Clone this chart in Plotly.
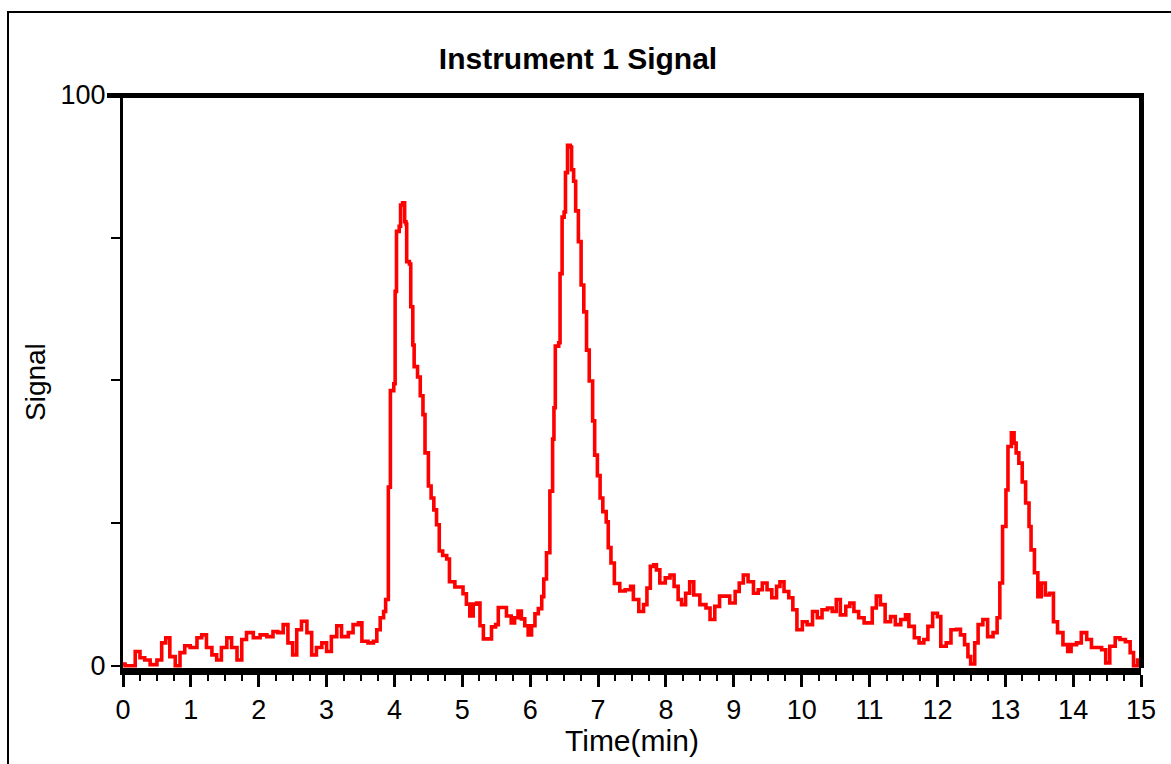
import plotly.graph_objects as go

# Retention time (min) and detector signal for Instrument 1
time_min = [
    0.00, 0.03, 0.18, 0.25, 0.32, 0.40, 0.50, 0.57, 0.63, 0.69, 0.77, 0.84, 0.91, 0.99,
    1.09, 1.16, 1.23, 1.31, 1.38, 1.45, 1.53, 1.60, 1.68, 1.75, 1.82, 1.92, 2.02, 2.12,
    2.21, 2.28, 2.36, 2.43, 2.50, 2.56, 2.63, 2.71, 2.78, 2.85, 2.93, 3.00, 3.07, 3.15,
    3.22, 3.32, 3.39, 3.47, 3.52, 3.61, 3.69, 3.74, 3.79, 3.84, 3.87,
    3.91, 3.94, 3.99, 4.01, 4.03, 4.07, 4.09, 4.12, 4.15, 4.17, 4.18, 4.22, 4.24, 4.27,
    4.29, 4.34, 4.38, 4.42, 4.45, 4.50, 4.54, 4.58, 4.62, 4.66, 4.71, 4.77, 4.81, 4.89,
    4.96, 5.01, 5.06, 5.11, 5.16, 5.21, 5.26, 5.31, 5.38, 5.43, 5.49, 5.53, 5.60, 5.65,
    5.72, 5.77, 5.82, 5.87, 5.92, 5.97, 6.02, 6.07, 6.12, 6.17, 6.20, 6.24, 6.29, 6.33,
    6.35, 6.37, 6.42, 6.44, 6.47, 6.50, 6.52, 6.55, 6.59, 6.61, 6.64, 6.67, 6.71, 6.75,
    6.79, 6.83, 6.87, 6.92, 6.95, 6.99, 7.03, 7.07, 7.12, 7.15, 7.19, 7.24, 7.32, 7.40,
    7.48, 7.52, 7.60, 7.67, 7.72, 7.77, 7.82,
    7.86, 7.91, 7.99, 8.06, 8.12, 8.18, 8.23, 8.29, 8.35, 8.41, 8.50, 8.59, 8.65, 8.72,
    8.79, 8.87, 8.94, 9.02, 9.08, 9.14, 9.21, 9.29, 9.36, 9.42, 9.49, 9.56, 9.63, 9.68,
    9.74, 9.81, 9.87, 9.93, 10.01, 10.08, 10.16, 10.23, 10.30, 10.38, 10.45, 10.51, 10.57,
    10.65, 10.71, 10.77, 10.84, 10.92, 10.99, 11.04, 11.10, 11.16, 11.23, 11.31, 11.38,
    11.46, 11.53, 11.58, 11.66, 11.73, 11.80, 11.86, 11.93, 12.00, 12.05, 12.13, 12.20,
    12.28, 12.34, 12.40, 12.45, 12.49, 12.55, 12.60, 12.67, 12.74, 12.82, 12.88, 12.92,
    12.96, 13.01, 13.04, 13.09, 13.13, 13.16, 13.20, 13.25, 13.30, 13.35, 13.38, 13.43,
    13.48, 13.53, 13.59, 13.65, 13.71, 13.77, 13.85, 13.92, 13.97, 14.05, 14.12, 14.20,
    14.27, 14.34, 14.42, 14.48, 14.54, 14.62, 14.69, 14.77, 14.84, 14.89, 14.95, 15.00,
]

signal = [
    0.3, 0.0, 2.5, 1.4, 1.0, 0.2, 1.0, 4.0, 4.9, 1.6, 0.0, 2.3, 3.5, 3.2,
    4.9, 5.4, 3.2, 1.9, 1.0, 3.2, 4.9, 3.2, 1.0, 4.6, 5.8, 4.9, 5.4, 5.1,
    6.0, 5.8, 7.2, 4.0, 1.9, 6.3, 7.8, 5.8, 1.9, 3.2, 4.0, 2.5, 5.1, 7.0,
    5.1, 5.8, 7.2, 7.5, 4.3, 4.0, 4.3, 6.3, 8.4, 9.5, 11.6,
    31.3, 48.2, 49.4, 65.6, 76.1, 77.0, 80.7, 81.1, 77.8, 77.4, 70.8, 70.4, 62.9, 56.2,
    52.4, 50.6, 47.3, 44.0, 37.3, 31.5, 29.4, 27.3, 24.7, 20.1, 19.3, 18.7, 14.7, 13.8,
    13.8, 12.6, 10.8, 8.7, 10.8, 11.0, 7.0, 4.7, 4.7, 6.8, 7.2, 10.2, 10.2, 8.7,
    7.5, 8.4, 9.6, 8.2, 7.0, 5.4, 7.0, 9.1, 10.0, 12.1, 15.2, 19.8, 30.6, 39.7,
    45.2, 56.0, 56.6, 68.7, 78.6, 79.5, 86.4, 91.2, 90.9, 86.9, 84.9, 79.7, 74.3, 66.7,
    62.0, 55.3, 49.9, 42.9, 36.9, 33.3, 29.4, 27.0, 25.2, 20.7, 18.0, 14.4, 13.1, 13.3,
    13.9, 11.6, 9.5, 10.7, 13.6, 17.4, 17.7,
    16.8, 14.5, 15.4, 15.9, 13.9, 11.6, 10.7, 12.7, 14.7, 12.4, 10.7, 10.1, 8.1, 10.4,
    12.2, 12.2, 11.0, 13.0, 14.5, 15.9, 14.7, 12.7, 13.3, 14.5, 13.3, 11.9, 13.9, 14.7,
    13.0, 11.9, 9.8, 6.3, 7.7, 7.2, 9.5, 8.4, 9.8, 10.1, 9.5, 11.6, 8.9,
    10.4, 11.0, 9.5, 8.4, 7.5, 7.5, 10.1, 12.2, 10.7, 7.7, 8.6, 7.2,
    8.1, 8.9, 6.9, 4.9, 4.0, 4.6, 6.9, 9.2, 8.6, 3.4, 4.0, 6.3,
    6.4, 5.4, 3.7, 1.6, 0.3, 4.0, 7.2, 8.1, 5.1, 5.8, 8.4, 14.5,
    24.4, 30.8, 38.4, 40.8, 39.0, 37.3, 35.5, 32.2, 28.5, 24.4, 20.3, 16.3,
    12.1, 14.5, 12.4, 12.7, 7.7, 5.8, 3.7, 2.5, 3.7, 4.0, 5.8, 4.6,
    3.2, 3.2, 2.8, 0.5, 3.4, 4.9, 4.6, 4.2, 2.3, 0.0, 1.0, 3.7,
]

x_ticks = list(range(0, 16))
y_ticks = [0, 25, 50, 75, 100]
y_tick_text = ["0", "", "", "", "100"]

W, H = 1171, 764
L, R, T, B = 123, 1141, 95, 668  # plot-area edges in pixels
pw, ph = R - L, B - T


def px_x(x):
    return (x - L) / pw


def px_y(y):
    return (B - y) / ph


FONT = "Arial, Liberation Sans, sans-serif"

fig = go.Figure()
fig.add_trace(go.Scatter(
    x=time_min, y=signal, mode="lines",
    line=dict(color="#ff0000", width=3.6, shape="hv"),
    hoverinfo="x+y", showlegend=False,
))

fig.update_layout(
    width=W, height=H,
    margin=dict(l=L, r=W - R, t=T, b=H - B, pad=0),
    paper_bgcolor="white", plot_bgcolor="white",
    font=dict(family=FONT, size=27, color="black"),
    title=dict(text="<b>Instrument 1 Signal</b>", x=578 / W, xref="container",
               xanchor="center", y=1 - 58 / H, yref="container", yanchor="middle",
               font=dict(family=FONT, size=30, color="black")),
    xaxis=dict(range=[0, 15], tickvals=x_ticks, showgrid=False, zeroline=False,
               showline=True, linecolor="black", linewidth=7,
               ticks="outside", ticklen=12, tickwidth=3, tickcolor="black",
               tickfont=dict(size=27),
               minor=dict(dtick=0.25, ticks="outside", ticklen=6, tickwidth=2,
                          tickcolor="black", showgrid=False)),
    yaxis=dict(range=[-0.4, 100], tickvals=y_ticks, ticktext=y_tick_text,
               showgrid=False, zeroline=False,
               showline=True, linecolor="black", linewidth=3,
               ticks="outside", ticklen=9, tickwidth=2, tickcolor="black",
               tickfont=dict(size=27)),
    annotations=[
        dict(text="Time(min)", x=0.5, y=px_y(741), xref="paper", yref="paper",
             xanchor="center", yanchor="middle", showarrow=False,
             font=dict(family=FONT, size=30, color="black")),
        dict(text="Signal", x=px_x(35), y=px_y(382), xref="paper", yref="paper",
             xanchor="center", yanchor="middle", showarrow=False, textangle=-90,
             font=dict(family=FONT, size=28, color="black")),
    ],
    shapes=[
        # outer frame
        dict(type="rect", xref="paper", yref="paper",
             x0=px_x(8), x1=px_x(1185), y0=px_y(790), y1=px_y(12),
             line=dict(color="black", width=2), layer="below"),
        # heavy top and right frame of the plot area
        dict(type="line", xref="paper", yref="paper",
             x0=px_x(107), x1=px_x(R + 3), y0=px_y(T + 0.5), y1=px_y(T + 0.5),
             line=dict(color="black", width=5)),
        dict(type="line", xref="paper", yref="paper",
             x0=px_x(R + 0.5), x1=px_x(R + 0.5), y0=px_y(T), y1=px_y(B),
             line=dict(color="black", width=5)),
    ],
)

fig.write_html("out.html")
